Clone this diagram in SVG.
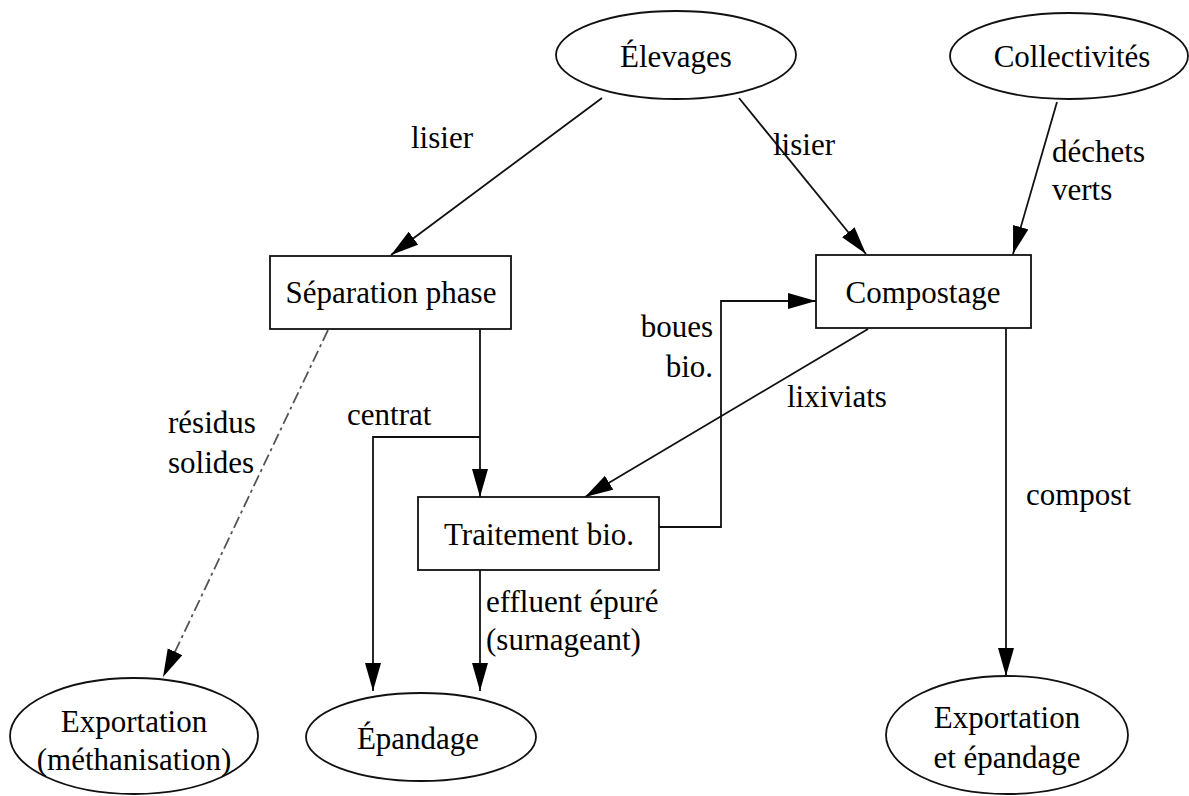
<svg xmlns="http://www.w3.org/2000/svg" width="1189" height="796" viewBox="0 0 1189 796">
<style>
text{font-family:"Liberation Serif","Times New Roman",serif;font-size:31px;fill:#000}
.n{text-anchor:middle}
.shape{fill:#fff;stroke:#111;stroke-width:1.8}
.c{fill:none;stroke:#111;stroke-width:1.8}
.d{fill:none;stroke:#555;stroke-width:1.8;stroke-dasharray:12 4 3 4}
</style>
<defs>
<marker id="ar" markerUnits="userSpaceOnUse" markerWidth="32" markerHeight="20" refX="28" refY="8" orient="auto">
<path d="M0,0 L28,8 L0,16 z" fill="#000"/>
</marker>
</defs>
<rect width="1189" height="796" fill="#fff"/>
<g id="connectors">
<line class="c" x1="602" y1="98" x2="391" y2="255" marker-end="url(#ar)"/>
<text x="411" y="148">lisier</text>
<line class="c" x1="739" y1="98" x2="866" y2="254" marker-end="url(#ar)"/>
<text x="773" y="155">lisier</text>
<line class="c" x1="1057" y1="102" x2="1013" y2="254" marker-end="url(#ar)"/>
<text x="1052" y="162">déchets</text>
<text x="1052" y="200">verts</text>
<line class="d" x1="328" y1="330" x2="163" y2="677" marker-end="url(#ar)"/>
<text x="168" y="433">résidus</text>
<text x="168" y="473">solides</text>
<line class="c" x1="480" y1="329" x2="480" y2="497" marker-end="url(#ar)"/>
<polyline class="c" points="480,437 373,437 373,691" marker-end="url(#ar)"/>
<text x="347" y="425">centrat</text>
<line class="c" x1="868" y1="329" x2="585" y2="497" marker-end="url(#ar)"/>
<text x="787" y="407">lixiviats</text>
<polyline class="c" points="659,527 721,527 721,301 816,301" marker-end="url(#ar)"/>
<text x="713" y="337" text-anchor="end">boues</text>
<text x="713" y="377" text-anchor="end">bio.</text>
<line class="c" x1="480" y1="570" x2="480" y2="691" marker-end="url(#ar)"/>
<text x="486" y="612">effluent épuré</text>
<text x="486" y="650">(surnageant)</text>
<line class="c" x1="1006" y1="328" x2="1006" y2="676" marker-end="url(#ar)"/>
<text x="1026" y="505">compost</text>
</g>
<g id="elevages">
<ellipse class="shape" cx="676" cy="55" rx="120" ry="44"/>
<text class="n" x="676" y="67">Élevages</text>
</g>
<g id="collectivites">
<ellipse class="shape" cx="1069" cy="56" rx="119" ry="43"/>
<text class="n" x="1072" y="67">Collectivités</text>
</g>
<g id="separation">
<rect class="shape" x="270" y="256" width="241" height="73"/>
<text class="n" x="391" y="303">Séparation phase</text>
</g>
<g id="compostage">
<rect class="shape" x="816" y="255" width="215" height="73"/>
<text class="n" x="923" y="303">Compostage</text>
</g>
<g id="traitement">
<rect class="shape" x="418" y="497" width="241" height="73"/>
<text class="n" x="539" y="545">Traitement bio.</text>
</g>
<g id="export-metha">
<ellipse class="shape" cx="134" cy="736" rx="124" ry="58"/>
<text class="n" x="134" y="732">Exportation</text>
<text class="n" x="134" y="770">(méthanisation)</text>
</g>
<g id="epandage">
<ellipse class="shape" cx="421" cy="737" rx="115" ry="44"/>
<text class="n" x="418" y="749">Épandage</text>
</g>
<g id="export-epandage">
<ellipse class="shape" cx="1007" cy="735" rx="121" ry="59"/>
<text class="n" x="1007" y="728">Exportation</text>
<text class="n" x="1007" y="768">et épandage</text>
</g>
</svg>
